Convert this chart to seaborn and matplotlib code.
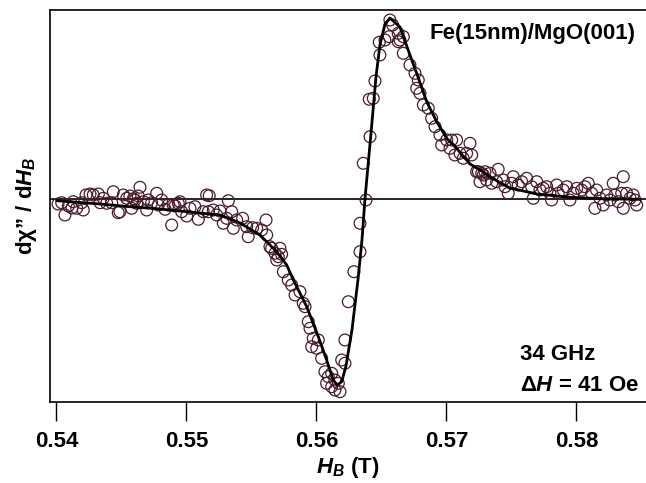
import numpy as np
import pandas as pd
import matplotlib
matplotlib.use("Agg")
import matplotlib.pyplot as plt
import seaborn as sns

# measured FMR derivative signal: field (T) and signal (arb. units)
field_data = [
    0.5404, 0.54065, 0.54091, 0.54129, 0.54155, 0.54194, 0.54206, 0.54227, 0.54258, 0.54283,
    0.54322, 0.54335, 0.5436, 0.54386, 0.54425, 0.54437, 0.54475, 0.54488, 0.54514, 0.5454,
    0.54565, 0.54578, 0.54604, 0.54629, 0.54642, 0.54668, 0.54694, 0.54706, 0.54732, 0.54771,
    0.54783, 0.54809, 0.54835, 0.5486, 0.54886, 0.54912, 0.54937, 0.54963, 0.55002, 0.55027,
    0.55065, 0.55091, 0.55129, 0.55155, 0.54591, 0.54617, 0.54898, 0.5495, 0.54012, 0.54119,
    0.55175, 0.55322, 0.55168, 0.55206, 0.55232, 0.55258, 0.55283, 0.55309, 0.55348, 0.5536,
    0.55386, 0.55432, 0.55463, 0.55475, 0.55509, 0.5554, 0.55578, 0.55612, 0.55617, 0.55655,
    0.55681, 0.55706, 0.55719, 0.55732, 0.55694, 0.55642, 0.55745, 0.55783, 0.55809, 0.55835,
    0.55873, 0.55898, 0.55912, 0.55937, 0.5595, 0.55975, 0.55963, 0.56014, 0.56002, 0.5604,
    0.56065, 0.56091, 0.56078, 0.56117, 0.56142, 0.56168, 0.56181, 0.56245, 0.56219, 0.56194,
    0.56381, 0.56335, 0.56335, 0.56288, 0.56219, 0.56117, 0.56142,
    0.5636, 0.56412, 0.56437, 0.56406, 0.5645, 0.56488, 0.56483, 0.56527, 0.56565, 0.56586,
    0.5656, 0.56629, 0.56642, 0.56668, 0.56668, 0.56719, 0.56758, 0.56771, 0.56796, 0.56822,
    0.5686, 0.56886, 0.56912, 0.5695, 0.56963, 0.57002, 0.5704, 0.57027, 0.57065, 0.57104,
    0.57129, 0.57181, 0.57194, 0.56783, 0.57078, 0.57155, 0.57245, 0.57283, 0.57309, 0.56629,
    0.57232, 0.57271, 0.57296, 0.57335, 0.57398, 0.57258, 0.57348, 0.57386, 0.57437, 0.5745,
    0.57475, 0.57502, 0.57514, 0.57552, 0.57578, 0.57617, 0.57655, 0.57668, 0.57694, 0.57719,
    0.57745, 0.57771, 0.57796, 0.57809, 0.57848, 0.5786, 0.57898, 0.57925, 0.5795, 0.57975,
    0.58002, 0.5804, 0.58065, 0.58091, 0.58117, 0.58142, 0.58155, 0.58181, 0.58206, 0.58232,
    0.58258, 0.58283, 0.58296, 0.58322, 0.58348, 0.5836, 0.5836, 0.58386, 0.58412, 0.58437,
    0.5845, 0.58463,
]
signal_data = [
    -3.7, -16, -7, -2.7, -9.3, -3.7, -11, 4, 5, 4,
    5, -3.7, 0.7, -4.3, -3.7, 7.3, -13.7, -12.7, 4, 0.7,
    3, -9.3, -1, 3, 11.7, -2.7, -11, -1, -3.7, 5.7,
    -6, -1, -10.3, -6, -26, -7, -4.3, -12.7, -17, -9.3,
    -7.7, -20.3, -12.7, 4, 0.3, -4.3, -6, -2.7, -5, -9,
    3.3, -1.7, -12.7, -11, -16, -12, -24.3, -19.3, -12.7, -29.3,
    -21, -19.3, -27.7, -37.7, -28.7, -29.3, -31, -21, -36, -49.3,
    -54.3, -57.7, -49.3, -55.3, -61, -47.7, -72.7, -81, -86, -96,
    -92.7, -104.3, -107.7, -122.7, -129.3, -139.3, -147.7, -141, -149.3, -159.3,
    -172.7, -177.7, -184.3, -187.7, -181, -184.3, -192.7, -102.7, -141, -161,
    -1, -24.3, -52.7, -72.7, -164.3, -174.3, -191,
    35.7, 62.3, 100.7, 99.7, 118, 144, 156.7, 159, 179, 174,
    162.3, 165.7, 159, 145.7, 162.3, 134, 125.7, 110.7, 105.7, 94,
    90.7, 80.7, 72.3, 64, 54, 59, 59, 50.7, 44, 45.7,
    40.7, 55.7, 44, 119, 59, 45.7, 27.3, 24, 19, 157.3,
    27.3, 25.7, 27.3, 25.7, 29.7, 17.3, 15.7, 17.3, 19, 12.3,
    5.7, 15.7, 22.3, 14, 17.3, 20.7, 12.3, 0.7, 17.3, 9,
    10.7, 12.3, 5.7, -1, 14, 5.7, 9, 12.3, -1, 5.7,
    10.7, 9, 12.3, 15.7, 5.7, -9.3, 9, 0.7, -6, 4,
    -1, 15.7, 4, -2.7, 5.7, 22.3, -9.3, 5.7, 0.7, 4,
    -1, -6,
]

# fitted curve
field_fit = [
    0.54002, 0.54335, 0.54565, 0.54796, 0.55104, 0.55258, 0.55412, 0.55565, 0.55694, 0.55771,
    0.55822, 0.55925, 0.56014, 0.56078, 0.56129, 0.5616, 0.56194, 0.56227, 0.56273, 0.56319,
    0.5635, 0.56373, 0.56417, 0.56458, 0.56488, 0.56527, 0.56565, 0.56642, 0.56719, 0.56771,
    0.56848, 0.56925, 0.57002, 0.57078, 0.57181, 0.57283, 0.57335, 0.57488, 0.57694, 0.5795,
    0.58206, 0.58489,
]
signal_fit = [
    -1.7, -5, -7.7, -10, -14, -16, -24, -36, -52.7, -66,
    -81, -107.7, -137.7, -161, -181, -186, -182.7, -167, -131, -81,
    -41, 0, 62.3, 122.3, 154, 175, 181, 172, 144, 125.7,
    97.3, 77.3, 60.7, 50.7, 35, 27, 22, 11, 5, 1.7,
    0.3, -0.3,
]

x_ticks = [0.54, 0.55, 0.56, 0.57, 0.58]
x_tick_labels = ["0.54", "0.55", "0.56", "0.57", "0.58"]

df = pd.DataFrame({"H": field_data, "S": signal_data})
fit = pd.DataFrame({"H": field_fit, "S": signal_fit})

sns.set_style("ticks")
plt.rcParams["font.family"] = ["Liberation Sans", "DejaVu Sans"]
plt.rcParams["font.weight"] = "bold"
plt.rcParams["text.color"] = "black"
plt.rcParams["axes.labelcolor"] = "black"
plt.rcParams["xtick.color"] = "black"
plt.rcParams["mathtext.fontset"] = "custom"
plt.rcParams["mathtext.it"] = "Liberation Sans:italic:bold"
plt.rcParams["mathtext.rm"] = "Liberation Sans:bold"
plt.rcParams["mathtext.bf"] = "Liberation Sans:bold"

fig = plt.figure(figsize=(6.46, 4.83), dpi=100)
ax = fig.add_axes([50 / 646, 81 / 483, 596 / 646, 392 / 483])

ax.axhline(0, color="black", lw=1.2, zorder=1)
sns.scatterplot(data=df, x="H", y="S", ax=ax, s=72, marker="o",
                facecolor="none", edgecolor="#4a1c28", linewidth=0.9, zorder=2)
sns.lineplot(data=fit, x="H", y="S", ax=ax, sort=False, estimator=None,
             color="black", lw=2.0, zorder=3)

ax.set_xlim(0.5395, 0.58535)
ax.set_ylim(-203, 189)
ax.set_xticks(x_ticks)
ax.set_xticklabels(x_tick_labels, fontsize=16, fontweight="bold")
ax.set_yticks([])
ax.tick_params(axis="x", direction="out", length=14, width=1, pad=7, color="black")
for side in ["top", "left", "bottom"]:
    ax.spines[side].set_linewidth(1.2)
    ax.spines[side].set_color("black")
ax.spines["right"].set_visible(False)

ax.set_xlabel(r"$H_B$ (T)", fontsize=16, fontweight="bold", labelpad=2)
ax.set_ylabel("dχ” / d$H_B$", fontsize=16, fontweight="bold", labelpad=8)

ax.text(0.982, 0.941, "Fe(15nm)/MgO(001)", transform=ax.transAxes,
        ha="right", va="center", fontsize=16, fontweight="bold")
ax.text(0.789, 0.12, "34 GHz", transform=ax.transAxes,
        ha="left", va="center", fontsize=16, fontweight="bold")
ax.text(0.789, 0.043, "Δ$H$ = 41 Oe", transform=ax.transAxes,
        ha="left", va="center", fontsize=16, fontweight="bold")

fig.savefig("out.png", dpi=100)
